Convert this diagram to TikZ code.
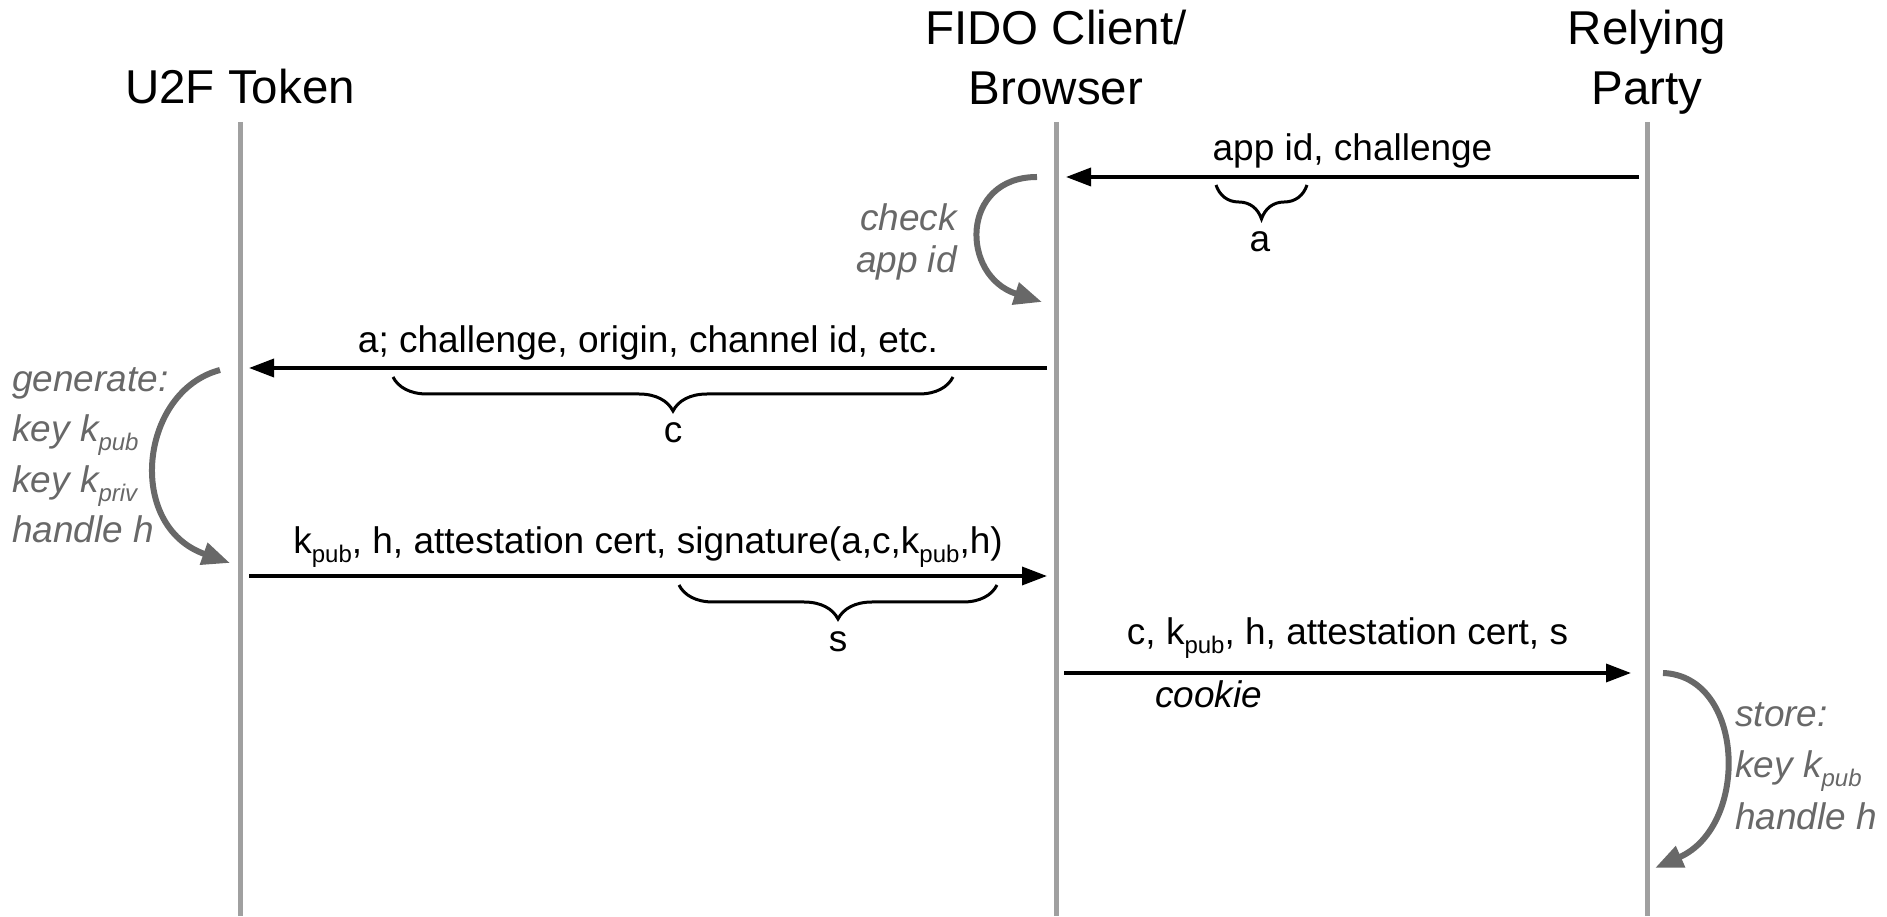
\documentclass[tikz,border=0pt]{standalone}
\usepackage{fontspec}
\setmainfont{Liberation Sans}
\usetikzlibrary{arrows.meta,decorations.pathreplacing}

\definecolor{lifegray}{HTML}{A0A0A0}
\definecolor{notegray}{HTML}{686868}
\newcommand{\sbs}[1]{\raisebox{-9pt}{\fontsize{24}{24}\selectfont #1}}

\begin{document}
\begin{tikzpicture}[x=1pt, y=1pt,
    head/.style={font=\fontsize{47.5}{60}\selectfont, align=center, anchor=base, inner sep=0pt},
    lbl/.style={font=\fontsize{37}{44}\selectfont, inner sep=0pt},
    note/.style={font=\fontsize{37}{50.5}\selectfont\itshape, text=notegray, inner sep=0pt},
    lifeline/.style={draw=lifegray, line width=5pt},
    msg/.style={line width=3.5pt, -{Triangle[length=25pt,width=18pt]}},
    selfarc/.style={draw=notegray, line width=6pt, -{Triangle[length=28pt,width=22pt]}},
    brc/.style={line width=3pt, decorate, decoration={brace, mirror, amplitude=34pt}}]
  \useasboundingbox (0,0) rectangle (1887,916);

  % parties
  \node[head] (tok) at (240,812) {U2F Token};
  \node[head] (brw) at (1056,811) {FIDO Client/\\Browser};
  \node[head] (rp) at (1647,811) {Relying\\Party};
  \coordinate (tok top) at (240,794);
  \coordinate (tok bot) at (240,0);
  \coordinate (brw top) at (1056,794);
  \coordinate (brw bot) at (1056,0);
  \coordinate (rp top) at (1647,794);
  \coordinate (rp bot) at (1647,0);
  \draw[lifeline] (tok top) -- (tok bot);
  \draw[lifeline] (brw top) -- (brw bot);
  \draw[lifeline] (rp top) -- (rp bot);

  % message ends
  \coordinate (rp1) at (1639,739);
  \coordinate (brw1) at (1066,739);
  \coordinate (brw2) at (1047,548);
  \coordinate (tok2) at (249,548);
  \coordinate (tok3) at (249,340);
  \coordinate (brw3) at (1047,340);
  \coordinate (brw4) at (1064,243);
  \coordinate (rp4) at (1631,243);

  \draw[msg] (rp1) -- node[lbl, anchor=base, yshift=16pt] (m1) {app id, challenge} (brw1);
  \draw[msg] (brw2) -- node[lbl, anchor=base, yshift=15pt] (m2)
    {a; challenge, origin, channel id, etc.} (tok2);
  \draw[msg] (tok3) -- node[lbl, anchor=base, yshift=22pt] (m3)
    {k\sbs{pub}, h, attestation cert, signature(a,c,k\sbs{pub},h)} (brw3);
  \draw[msg] (brw4) -- node[lbl, anchor=base, yshift=28pt] (m4)
    {c, k\sbs{pub}, h, attestation cert, s} (rp4);
  \node[lbl, font=\fontsize{37}{44}\selectfont\itshape, anchor=base west] (cookie) at (1155,208) {cookie};

  % braces
  \draw[brc] (1216,731) -- (1307,731);
  \node[lbl] (a) at (1260,674) {a};
  \draw[brc] (393,539) -- (953,539);
  \node[lbl] (c) at (673,483) {c};
  \draw[brc] (679,331) -- (997,331);
  \node[lbl] (s) at (838,274) {s};

  % local steps
  \node[note, font=\fontsize{37}{42}\selectfont\itshape, align=right, anchor=base east] (chk)
    at (957,643) {check\\app id};
  \coordinate (chk s) at (1037,739);
  \coordinate (chk e) at (1042,614);
  \draw[selfarc] (chk s) .. controls (960,739) and (960,640) .. (chk e);

  \node[note, align=left, anchor=base west] (gen) at (12,373)
    {generate:\\key k\sbs{pub}\\key k\sbs{priv}\\handle h};
  \coordinate (gen s) at (220,546);
  \coordinate (gen e) at (230,353);
  \draw[selfarc] (gen s) .. controls (140,525) and (125,390) .. (gen e);

  \node[note, font=\fontsize{37}{51.5}\selectfont\itshape, align=left, anchor=base west] (sto)
    at (1735,87) {store:\\key k\sbs{pub}\\handle h};
  \coordinate (sto s) at (1663,243);
  \coordinate (sto e) at (1655,48);
  \draw[selfarc] (sto s) .. controls (1745,240) and (1750,90) .. (sto e);
\end{tikzpicture}
\end{document}
